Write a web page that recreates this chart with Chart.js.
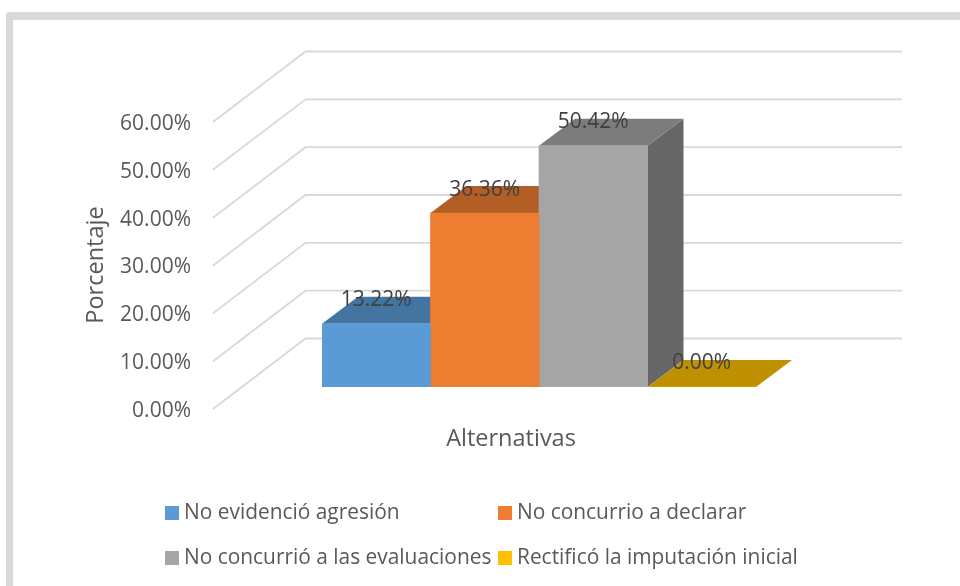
<!DOCTYPE html>
<html>
<head>
<meta charset="utf-8">
<style>html,body{margin:0;padding:0;background:#fff;overflow:hidden}canvas{display:block}</style>
<script src="https://cdn.jsdelivr.net/npm/chart.js@4"></script>
</head>
<body>
<canvas id="c" width="960" height="586"></canvas>
<script>
const categories = ["Alternativas"];
const seriesNames = ["No evidenció agresión","No concurrio a declarar","No concurrió a las evaluaciones","Rectificó la imputación inicial"];
const seriesValues = [13.22, 36.36, 50.42, 0.00];
const frontColors = ["#5B9BD5","#ED7D31","#A5A5A5","#FFC000"];
const topColors = ["#4474A0","#B25E25","#7C7C7C","#BF9000"];
const sideColors = ["#385D80","#8E4B1E","#666666","#997300"];
const tickValues = [0,10,20,30,40,50,60];
const FONT = '"Open Sans", sans-serif';
const FS = 21;

const depth = {
  id:'depth',
  beforeDraw(chart){
    const c = chart.ctx;
    c.save();
    c.fillStyle='#fff'; c.fillRect(0,0,960,586);
    c.fillStyle='#D9D9D9'; c.beginPath(); c.roundRect(6,12,970,590,3); c.fill();
    c.fillStyle='#fff'; c.fillRect(13,20,960,580);
    c.restore();
  },
  beforeDatasetsDraw(chart){
    const c = chart.ctx, y = chart.scales.y;
    c.save();
    c.strokeStyle='#D9D9D9'; c.lineWidth=1.8;
    tickValues.forEach(v=>{
      const p=y.getPixelForValue(v);
      c.beginPath();
      c.moveTo(213,p+22); c.lineTo(305.5,p-48.5); c.lineTo(902,p-48.5);
      c.stroke();
    });
    const dx=36, dy=-27;
    chart.data.datasets.forEach((d,i)=>{
      const b=chart.getDatasetMeta(i).data[0];
      const l=b.x-b.width/2, r=b.x+b.width/2, t=b.y, bot=b.base;
      c.fillStyle=sideColors[i];
      c.beginPath(); c.moveTo(r,t); c.lineTo(r+dx,t+dy); c.lineTo(r+dx,bot+dy); c.lineTo(r,bot); c.closePath();
      if(bot-t>0.5) c.fill();
      c.fillStyle=topColors[i];
      c.beginPath(); c.moveTo(l,t); c.lineTo(l+dx,t+dy); c.lineTo(r+dx,t+dy); c.lineTo(r,t); c.closePath(); c.fill();
    });
    c.restore();
  },
  afterDraw(chart){
    const c=chart.ctx;
    c.save();
    c.textBaseline='middle'; c.textAlign='center';
    c.font=FS+'px '+FONT; c.fillStyle='#404040';
    chart.data.datasets.forEach((d,i)=>{
      const b=chart.getDatasetMeta(i).data[0];
      c.fillText(seriesValues[i].toFixed(2)+'%', b.x, b.y-23.5);
    });
    c.fillStyle='#595959';
    c.font='23.5px '+FONT;
    c.fillText('Alternativas',511,439);
    c.save(); c.translate(96,265); c.rotate(-Math.PI/2); c.fillText('Porcentaje',0,0); c.restore();
    c.font='20.9px '+FONT;
    c.textAlign='left';
    const xs=[165,498], ys=[506,551];
    seriesNames.forEach((n,i)=>{
      const x=xs[i%2], yy=ys[Math.floor(i/2)];
      c.fillStyle=frontColors[i]; c.fillRect(x,yy,14,14);
      c.fillStyle='#595959'; c.fillText(n,x+19,yy+7.5);
    });
    c.restore();
  }
};

new Chart(document.getElementById('c'),{
  type:'bar',
  data:{labels:categories,datasets:seriesNames.map((n,i)=>({
    label:n,data:[seriesValues[i]],backgroundColor:frontColors[i],
    barPercentage:1,categoryPercentage:1,borderWidth:0
  }))},
  plugins:[depth],
  options:{
    responsive:false,animation:false,
    layout:{padding:{left:0,right:204,top:100,bottom:199}},
    plugins:{legend:{display:false},tooltip:{enabled:false},title:{display:false}},
    scales:{
      x:{grid:{display:false},border:{display:false},ticks:{display:false},
        afterFit(s){s.height=0;s.paddingLeft=0;s.paddingRight=0;}},
      y:{min:0,max:60,
        grid:{display:false,drawTicks:false},border:{display:false},
        afterFit(s){s.width=322;s.paddingTop=0;s.paddingBottom=0;},
        ticks:{stepSize:10,padding:131,labelOffset:24,color:'#595959',font:{family:FONT,size:FS},
          callback:v=>v.toFixed(2)+'%'}}
    }
  }
});
</script>
</body>
</html>
